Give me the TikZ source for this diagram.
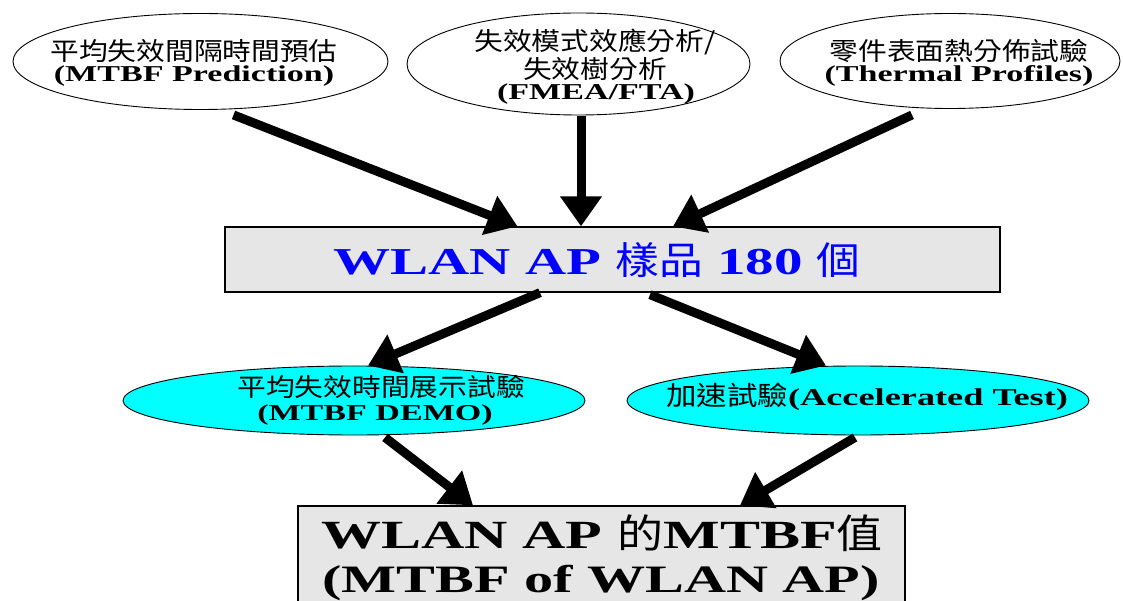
\documentclass[tikz,border=0pt]{standalone}
\usepackage{fontspec}
\usetikzlibrary{arrows.meta,shapes.geometric}
\newfontfamily\lat[FakeStretch=1.5]{Liberation Serif}
\newfontfamily\cjk[FakeStretch=1.15]{Noto Sans CJK TC}
\newcommand\bigcjk{\cjk\mdseries\fontsize{38}{44}\selectfont}
\newcommand\hugecjk{\cjk\mdseries\fontsize{40}{46}\selectfont}
\newcommand\smcjk{\cjk\mdseries\fontsize{25}{30}\selectfont}
\newcommand\midcjk{\cjk\mdseries\fontsize{26.5}{30}\selectfont}
\definecolor{boxgray}{HTML}{E6E6E6}
\definecolor{cyanfill}{HTML}{00FFFF}
\definecolor{textblue}{HTML}{0000FF}
\begin{document}
\begin{tikzpicture}[x=1pt,y=-1pt,
  ell/.style={draw=black, line width=0.9pt, ellipse, inner sep=0pt},
  boxn/.style={draw=black, line width=1.3pt, fill=boxgray, rectangle, inner sep=0pt},
  arr/.style={line width=9pt, -{Triangle[length=30pt,width=40pt]}},
  cj/.style={font=\smcjk, inner sep=0pt},
  la/.style={font=\lat\bfseries\fontsize{22.7}{27}\selectfont, inner sep=0pt, anchor=base},
  big/.style={font=\lat\bfseries\fontsize{38}{44}\selectfont, inner sep=0pt, anchor=base},
]
\useasboundingbox (0,0) rectangle (1123,601);
% top ellipses
\node[ell, minimum width=375pt, minimum height=96pt] (e1) at (200.5,61.5) {};
\node[ell, minimum width=343pt, minimum height=102pt] (e2) at (578.5,64) {};
\node[ell, minimum width=340pt, minimum height=95pt] (e3) at (950,61) {};
\node[cj] (t1a) at (194,51) {平均失效間隔時間預估};
\node[la] (t1b) at (194,82) {(MTBF Prediction)};
\node[cj] (t2a) at (595,42) {失效模式效應分析/};
\node[cj] (t2b) at (595,69) {失效樹分析};
\node[la] (t2c) at (596,100) {(FMEA/FTA)};
\node[cj] (t3a) at (959,51) {零件表面熱分佈試驗};
\node[la] (t3b) at (959,82) {(Thermal Profiles)};
% sample box
\node[boxn, minimum width=775pt, minimum height=65pt] (b1) at (612.5,259.5) {};
\node[big, text=textblue] (tb1) at (597,275) {WLAN AP {\bigcjk 樣品} 180 {\bigcjk 個}};
% cyan ellipses
\node[ell, fill=cyanfill, minimum width=462pt, minimum height=69pt] (c1) at (354,400.5) {};
\node[ell, fill=cyanfill, minimum width=462pt, minimum height=69pt] (c2) at (858,400.5) {};
\node[cj] (tc1a) at (381,387) {平均失效時間展示試驗};
\node[la] (tc1b) at (375,420) {(MTBF DEMO)};
\node[la, font=\lat\bfseries\fontsize{24.2}{28}\selectfont] (tc2) at (867,405) {{\midcjk 加速試驗}(Accelerated Test)};
% result box
\node[boxn, minimum width=607pt, minimum height=114pt] (b2) at (601.5,563) {};
\node[big, font=\lat\bfseries\fontsize{40}{46}\selectfont] (tb2a) at (602,548) {WLAN AP {\hugecjk 的}MTBF{\hugecjk 值}};
\node[big, font=\lat\bfseries\fontsize{38.8}{44}\selectfont] (tb2b) at (601,592) {(MTBF of WLAN AP)};
% arrows
\draw[arr] ([xshift=33pt,yshift=-5pt]e1.south) -- ([xshift=-95pt]b1.north);
\draw[arr] ([xshift=2.5pt,yshift=-1pt]e2.south) -- ([xshift=-31.5pt]b1.north);
\draw[arr] ([xshift=-38pt,yshift=-6pt]e3.south) -- ([xshift=60.5pt]b1.north);
\draw[arr] ([xshift=-72.5pt]b1.south) -- ([xshift=14pt]c1.north);
\draw[arr] ([xshift=37.5pt,yshift=-2pt]b1.south) -- ([xshift=-32pt]c2.north);
\draw[arr] ([xshift=31pt,yshift=-2pt]c1.south) -- ([xshift=-128.5pt]b2.north);
\draw[arr] ([xshift=-3pt,yshift=-2pt]c2.south) -- ([xshift=138.5pt]b2.north);
\end{tikzpicture}
\end{document}
